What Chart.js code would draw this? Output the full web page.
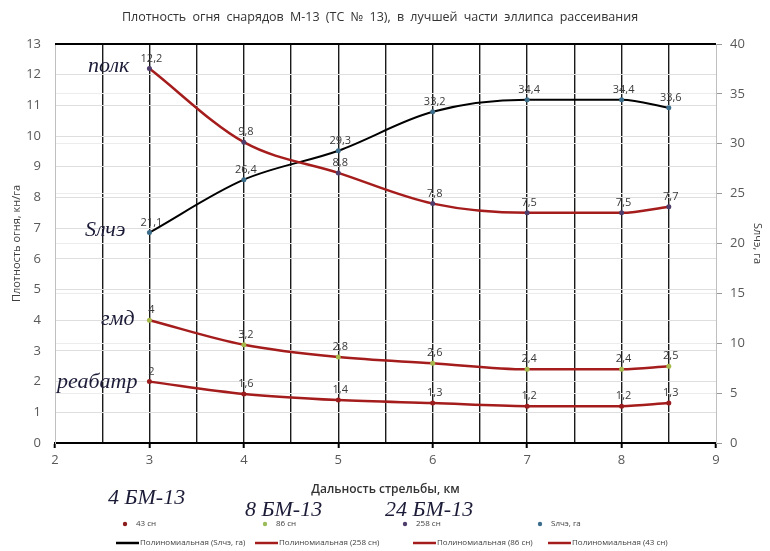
<!DOCTYPE html>
<html><head><meta charset="utf-8">
<script src="https://cdn.jsdelivr.net/npm/chart.js@4"></script>
<style>
html,body{margin:0;padding:0;background:#fff;}
#wrap{position:relative;width:770px;height:551px;}
</style></head><body>
<div id="wrap"><canvas id="c" width="770" height="551"></canvas></div>
<script>
// ---- data ----
const distances = [3, 4, 5, 6, 7, 8, 8.5];
const polk258 = [12.2, 9.8, 8.8, 7.8, 7.5, 7.5, 7.7];
const gmd86 = [4, 3.2, 2.8, 2.6, 2.4, 2.4, 2.5];
const reabatr43 = [2, 1.6, 1.4, 1.3, 1.2, 1.2, 1.3];
const slche = [21.1, 26.4, 29.3, 33.2, 34.4, 34.4, 33.6];
const titleText = 'Плотность огня снарядов М-13 (ТС № 13), в лучшей части эллипса рассеивания';
const xTitle = 'Дальность стрельбы, км';
const yTitle = 'Плотность огня, кн/га';
const y2Title = 'Sлчэ, га';
const seriesNotes = [['полк', 88, 72], ['Sлчэ', 85, 236], ['гмд', 101, 325], ['реабатр', 57, 388]];
const groupNotes = [['4 БМ-13', 108, 504], ['8 БМ-13', 245, 516], ['24 БМ-13', 385, 516]];
const legendPoints = [['43 сн', '#8c1d1d', 125], ['86 сн', '#9bbb59', 265], ['258 сн', '#4f3d6b', 405], ['Sлчэ, га', '#3c6e8c', 540]];
const legendLines = [['Полиномиальная (Sлчэ, га)', '#000', 116], ['Полиномиальная (258 сн)', '#a51c1c', 255], ['Полиномиальная (86 сн)', '#a51c1c', 413], ['Полиномиальная (43 сн)', '#a51c1c', 548]];

const toXY = ys => distances.map((x, i) => ({x, y: ys[i]}));
const fmt = v => String(v).replace('.', ',');

const extras = {
  id: 'extras',
  afterDatasetsDraw(chart) {
    const ctx = chart.ctx, a = chart.chartArea;
    ctx.save();
    ctx.strokeStyle = '#000'; ctx.lineWidth = 2;
    ctx.beginPath(); ctx.moveTo(a.left, a.top); ctx.lineTo(a.right, a.top); ctx.stroke();
    ctx.font = '11px "Open Sans"'; ctx.fillStyle = '#3a3a3a';
    ctx.textAlign = 'center'; ctx.textBaseline = 'alphabetic';
    chart.data.datasets.forEach((ds, di) => {
      const meta = chart.getDatasetMeta(di);
      meta.data.forEach((el, i) => {
        ctx.fillText(fmt(ds.data[i].y), el.x + 2, el.y - 7);
      });
    });
    ctx.restore();
  },
  afterDraw(chart) {
    const ctx = chart.ctx;
    ctx.save();
    ctx.font = '12.5px "Open Sans"'; ctx.fillStyle = '#333';
    ctx.textAlign = 'center'; ctx.textBaseline = 'middle';
    try { ctx.wordSpacing = '3px'; } catch (e) {}
    ctx.fillText(titleText, 380, 17);
    try { ctx.wordSpacing = '0px'; } catch (e) {}
    ctx.font = 'italic 22px "Liberation Serif"'; ctx.fillStyle = '#1c1c38';
    ctx.textAlign = 'left'; ctx.textBaseline = 'alphabetic';
    seriesNotes.forEach(([t, x, y]) => ctx.fillText(t, x, y));
    groupNotes.forEach(([t, x, y]) => ctx.fillText(t, x, y));
    ctx.font = '8px "Open Sans"'; ctx.textBaseline = 'middle';
    legendPoints.forEach(([t, c, x]) => {
      ctx.fillStyle = c; ctx.beginPath(); ctx.arc(x, 524, 2.2, 0, Math.PI * 2); ctx.fill();
      ctx.fillStyle = '#404040'; ctx.fillText(t, x + 11, 524);
    });
    legendLines.forEach(([t, c, x]) => {
      ctx.strokeStyle = c; ctx.lineWidth = 2.5;
      ctx.beginPath(); ctx.moveTo(x, 543); ctx.lineTo(x + 23, 543); ctx.stroke();
      ctx.fillStyle = '#404040'; ctx.fillText(t, x + 24, 543);
    });
    ctx.restore();
  }
};

const lineDs = (label, ys, axis, lineColor, ptColor, w) => ({
  label, data: toXY(ys), yAxisID: axis,
  borderColor: lineColor, borderWidth: w, cubicInterpolationMode: 'monotone',
  pointRadius: 2.5, pointBackgroundColor: ptColor, pointBorderColor: ptColor, pointBorderWidth: 0
});

new Chart(document.getElementById('c'), {
  type: 'line',
  data: {
    datasets: [
      lineDs('258 сн', polk258, 'y', '#a51c1c', '#4f3d6b', 2.5),
      lineDs('86 сн', gmd86, 'y', '#a51c1c', '#a6b84a', 2.5),
      lineDs('43 сн', reabatr43, 'y', '#a51c1c', '#9b1c1c', 2.5),
      lineDs('Sлчэ, га', slche, 'y2', '#000', '#3c6e8c', 2)
    ]
  },
  options: {
    responsive: false, animation: false,
    layout: { padding: { top: 44, left: 0, right: 0, bottom: 0 } },
    plugins: { legend: { display: false }, title: { display: false }, tooltip: { enabled: false } },
    scales: {
      x: {
        type: 'linear', min: 2, max: 9,
        ticks: { stepSize: 0.5, autoSkip: false, maxRotation: 0, color: '#595959', font: { size: 13, family: 'Open Sans' }, padding: 4,
          callback: v => Number.isInteger(v) ? String(v) : '' },
        grid: {
          color: c => (c.tick && c.tick.value > 2 && c.tick.value < 9) ? '#1a1a1a' : 'rgba(0,0,0,0)',
          lineWidth: 1.4,
          tickColor: c => (c.tick && Number.isInteger(c.tick.value)) ? '#000' : 'rgba(0,0,0,0)',
          tickLength: 5, tickWidth: 2
        },
        border: { color: '#000', width: 2 },
        title: { display: true, text: xTitle, color: '#333', font: { size: 12, family: 'Open Sans', weight: '600' }, padding: { top: 0, bottom: 54 } },
        afterFit: s => { s.height = 108; }
      },
      y: {
        position: 'left', min: 0, max: 13,
        ticks: { stepSize: 1, color: '#595959', font: { size: 13, family: 'Open Sans' }, padding: 14 },
        grid: { color: '#dedede', lineWidth: 1, drawTicks: false },
        border: { color: '#bfbfbf', width: 1 },
        title: { display: true, text: yTitle, color: '#404040', font: { size: 11, family: 'Open Sans' }, padding: { top: 10, bottom: 0 } },
        afterFit: s => { s.width = 55; }
      },
      y2: {
        position: 'right', min: 0, max: 40,
        ticks: { stepSize: 5, color: '#595959', font: { size: 13, family: 'Open Sans' }, padding: 8 },
        grid: { color: '#ececec', lineWidth: 1, tickColor: '#999', tickLength: 6, drawOnChartArea: true },
        border: { color: '#bfbfbf', width: 1 },
        title: { display: true, text: y2Title, color: '#404040', font: { size: 11, family: 'Open Sans' }, padding: { top: 6, bottom: 0 } },
        afterFit: s => { s.width = 54; }
      }
    }
  },
  plugins: [extras]
});
</script>
</body></html>
